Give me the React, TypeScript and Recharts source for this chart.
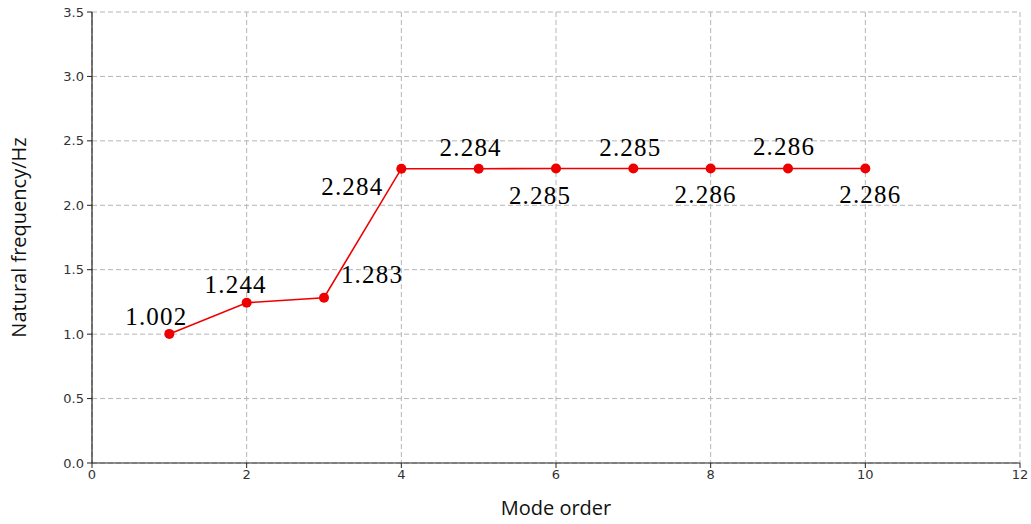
import React from 'react';
import { LineChart, Line, XAxis, YAxis, CartesianGrid, LabelList } from 'recharts';

const modeOrder = [1, 2, 3, 4, 5, 6, 7, 8, 9, 10];
const frequency = [1.002, 1.244, 1.283, 2.284, 2.284, 2.285, 2.285, 2.286, 2.286, 2.286];
const xTicks = [0, 2, 4, 6, 8, 10, 12];
const yTicks = [0, 0.5, 1, 1.5, 2, 2.5, 3, 3.5];

// where each value label sits relative to its point (dx to text centre, dy to baseline)
const labelOffsets = [
  [-13, -9], [-11, -10], [48, -15], [-49, 26], [-8, -13],
  [-16, 35], [-3, -13], [-5, 35], [-4, -13], [5, 35],
];

const data = modeOrder.map((m, i) => ({ mode: m, freq: frequency[i] }));

const tickStyle = { fontFamily: 'DejaVu Sans', fontSize: 13, fill: '#333' };

const ValueLabel = (props: any) => {
  const { x, y, value, index } = props;
  const [dx, dy] = labelOffsets[index] || [0, -12];
  return (
    <text
      x={x + dx}
      y={y + dy}
      textAnchor="middle"
      fontFamily="'Liberation Serif', serif"
      fontSize={25}
      letterSpacing={1.2}
      fill="#000"
    >
      {value.toFixed(3)}
    </text>
  );
};

export default function App() {
  return (
    <div style={{ position: 'absolute', left: 0, top: 0, width: 1031, height: 524, background: '#fff' }}>
      <LineChart width={1031} height={524} data={data} margin={{ top: 12, right: 11, bottom: 0, left: 0 }}>
        <CartesianGrid stroke="#b5b5b5" strokeDasharray="5 3" />
        <XAxis
          xAxisId="top"
          orientation="top"
          dataKey="mode"
          type="number"
          domain={[0, 12]}
          ticks={xTicks}
          height={0}
          tick={false}
          tickLine={false}
          axisLine={{ stroke: '#222', strokeWidth: 1.2 }}
        />
        <XAxis
          dataKey="mode"
          type="number"
          domain={[0, 12]}
          ticks={xTicks}
          height={61}
          tick={tickStyle}
          tickSize={5}
          tickMargin={2}
          tickLine={{ stroke: '#222' }}
          axisLine={{ stroke: '#222', strokeWidth: 1.2 }}
          label={{
            value: 'Mode order',
            position: 'insideBottom',
            offset: 9,
            style: { fontFamily: "'Open Sans'", fontSize: 20, fill: '#111' },
          }}
        />
        <YAxis
          yAxisId="right"
          orientation="right"
          type="number"
          domain={[0, 3.5]}
          ticks={yTicks}
          width={0}
          tick={false}
          tickLine={false}
          axisLine={{ stroke: '#222', strokeWidth: 1.2 }}
        />
        <YAxis
          type="number"
          domain={[0, 3.5]}
          ticks={yTicks}
          width={92}
          tick={tickStyle}
          tickFormatter={(v: number) => v.toFixed(1)}
          tickSize={5}
          tickMargin={3}
          tickLine={{ stroke: '#222' }}
          axisLine={{ stroke: '#222', strokeWidth: 1.2 }}
          label={{
            value: 'Natural frequency/Hz',
            angle: -90,
            position: 'insideLeft',
            offset: 19,
            style: { textAnchor: 'middle', fontFamily: "'Open Sans'", fontSize: 20, fill: '#111' },
          }}
        />
        <Line
          type="linear"
          dataKey="freq"
          stroke="#ee0000"
          strokeWidth={1.6}
          dot={{ r: 5, fill: '#ee0000', stroke: '#ee0000', strokeWidth: 0 }}
          activeDot={false}
          isAnimationActive={false}
        >
          <LabelList dataKey="freq" content={ValueLabel} />
        </Line>
      </LineChart>
    </div>
  );
}
